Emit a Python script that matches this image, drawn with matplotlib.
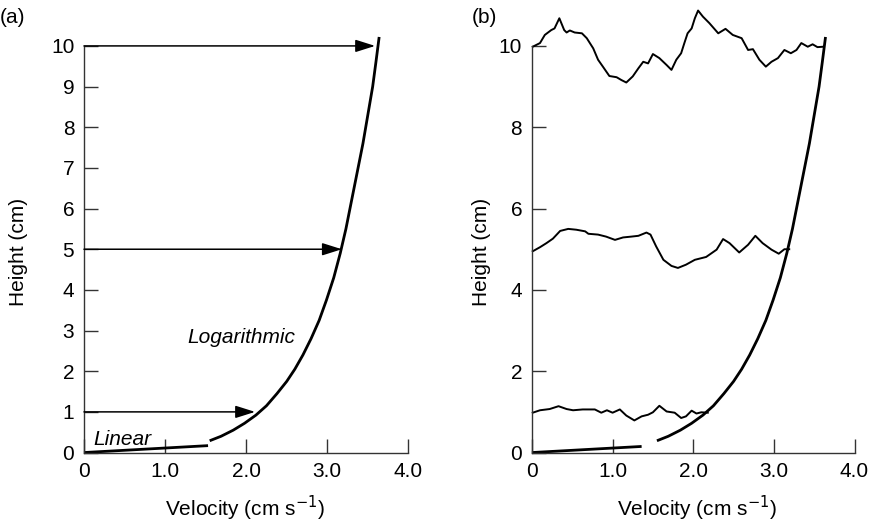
import numpy as np
import matplotlib
matplotlib.use('Agg')
import matplotlib.pyplot as plt

plt.rcParams['font.family'] = ['Liberation Sans', 'DejaVu Sans']

# Velocity profile: logarithmic part (velocity, height)
log_u = [1.55, 1.69, 1.84, 1.98, 2.12, 2.25, 2.38, 2.50, 2.60, 2.70, 2.80, 2.90,
         2.99, 3.08, 3.16, 3.23, 3.30, 3.37, 3.44, 3.50, 3.56, 3.60, 3.64]
log_z = [0.29, 0.40, 0.55, 0.72, 0.92, 1.15, 1.45, 1.75, 2.05, 2.40, 2.80, 3.25,
         3.75, 4.30, 4.90, 5.50, 6.20, 6.90, 7.60, 8.30, 9.00, 9.60, 10.22]

# Linear (viscous) part near the bed
lin_u_a = [0.0, 1.53]
lin_z_a = [0.0, 0.17]
lin_u_b = [0.0, 1.36]
lin_z_b = [0.0, 0.15]

# Heights and velocities of the arrows in (a)
arrow_z = [1, 5, 10]
arrow_u = [2.11, 3.18, 3.59]

# Dye streaks in (b)
top_u = [0.01, 0.10, 0.16, 0.24, 0.28, 0.34, 0.40, 0.43, 0.47, 0.53, 0.62, 0.68, 0.76,
         0.82, 0.88, 0.96, 1.05, 1.11, 1.17, 1.25, 1.32, 1.38, 1.44, 1.50, 1.58, 1.67,
         1.73, 1.79, 1.85, 1.89, 1.93, 1.98, 2.02, 2.06, 2.12, 2.20, 2.31, 2.40, 2.49,
         2.60, 2.68, 2.74, 2.82, 2.90, 2.97, 3.05, 3.13, 3.21, 3.28, 3.34, 3.42, 3.48,
         3.54, 3.61]
top_z = [9.98, 10.07, 10.27, 10.39, 10.43, 10.68, 10.39, 10.33, 10.38, 10.33, 10.31, 10.19,
         9.94, 9.66, 9.49, 9.26, 9.23, 9.16, 9.10, 9.25, 9.45, 9.61, 9.57, 9.80, 9.70, 9.53,
         9.41, 9.66, 9.82, 10.07, 10.31, 10.43, 10.68, 10.87, 10.72, 10.56, 10.31, 10.42,
         10.27, 10.19, 9.90, 9.92, 9.66, 9.49, 9.61, 9.70, 9.90, 9.82, 9.90, 10.07, 9.98,
         10.04, 9.97, 9.98]

mid_u = [0.01, 0.10, 0.18, 0.26, 0.35, 0.45, 0.55, 0.66, 0.70, 0.82, 0.92, 1.03, 1.13,
         1.23, 1.32, 1.42, 1.47, 1.54, 1.63, 1.73, 1.81, 1.91, 2.02, 2.10, 2.16, 2.29,
         2.37, 2.45, 2.57, 2.68, 2.77, 2.86, 2.97, 3.06, 3.13, 3.19]
mid_z = [4.95, 5.05, 5.15, 5.26, 5.45, 5.50, 5.48, 5.44, 5.38, 5.36, 5.31, 5.23, 5.29,
         5.31, 5.33, 5.41, 5.36, 5.07, 4.74, 4.59, 4.54, 4.62, 4.74, 4.78, 4.81, 4.99,
         5.25, 5.15, 4.92, 5.11, 5.33, 5.15, 4.99, 4.89, 5.00, 5.00]

low_u = [0.01, 0.10, 0.22, 0.33, 0.43, 0.51, 0.63, 0.78, 0.86, 0.93, 1.00, 1.09, 1.17,
         1.27, 1.36, 1.44, 1.50, 1.58, 1.67, 1.77, 1.85, 1.91, 1.98, 2.04, 2.10, 2.18]
low_z = [0.98, 1.04, 1.07, 1.14, 1.07, 1.04, 1.06, 1.06, 0.98, 1.04, 0.98, 1.06, 0.91,
         0.79, 0.89, 0.93, 0.99, 1.15, 1.01, 0.98, 0.85, 0.89, 1.03, 0.96, 0.99, 0.98]

FS = 15

fig = plt.figure(figsize=(8.72, 5.25), dpi=100)
ax_a = fig.add_axes([0.0963, 0.138, 0.372, 0.852])
ax_b = fig.add_axes([0.610, 0.138, 0.370, 0.852])


def style_axes(ax, yticks, ylab_x, xlab_x):
    ax.set_xlim(0, 4)
    ax.set_ylim(0, 11)
    for s in ['top', 'right']:
        ax.spines[s].set_visible(False)
    ax.spines['left'].set_bounds(0, 10)
    ax.spines['bottom'].set_bounds(0, 4)
    for s in ['left', 'bottom']:
        ax.spines[s].set_linewidth(1.0)
        ax.spines[s].set_color('#333333')
    ax.set_xticks([0, 1, 2, 3, 4])
    ax.set_xticklabels(['0', '1.0', '2.0', '3.0', '4.0'])
    ax.set_yticks(yticks)
    ax.tick_params(direction='in', length=10, width=1.0, color='#333333',
                   labelsize=FS, pad=7)
    ax.set_xlabel('Velocity (cm s$^{-1}$)', fontsize=FS, va='center')
    ax.set_ylabel('Height (cm)', fontsize=FS, va='center')
    ax.xaxis.set_label_coords(xlab_x, -0.124)
    ax.yaxis.set_label_coords(ylab_x, 0.448)


# (a) profile with velocity arrows
style_axes(ax_a, range(0, 11), -0.203, 0.496)
ax_a.plot(lin_u_a, lin_z_a, color='black', lw=2.0, clip_on=False, solid_capstyle='butt')
ax_a.plot(log_u, log_z, color='black', lw=2.0, clip_on=False, solid_capstyle='butt')
for z, u in zip(arrow_z, arrow_u):
    ax_a.annotate('', xy=(u, z), xytext=(0, z),
                  arrowprops=dict(arrowstyle='-|>,head_length=1.2,head_width=0.38',
                                  color='black', lw=1.1, shrinkA=0, shrinkB=0))
ax_a.text(1.28, 2.82, 'Logarithmic', fontsize=FS, style='italic', va='center')
ax_a.text(0.11, 0.33, 'Linear', fontsize=FS, style='italic', va='center')
fig.text(0.0, 0.967, '(a)', fontsize=FS, va='center')

# (b) profile with dye streaks
style_axes(ax_b, range(0, 11, 2), -0.155, 0.51)
ax_b.plot(lin_u_b, lin_z_b, color='black', lw=2.0, clip_on=False, solid_capstyle='butt')
ax_b.plot(log_u, log_z, color='black', lw=2.0, clip_on=False, solid_capstyle='butt')
for u, z in [(top_u, top_z), (mid_u, mid_z), (low_u, low_z)]:
    ax_b.plot(u, z, color='black', lw=1.4, clip_on=False)
fig.text(0.541, 0.967, '(b)', fontsize=FS, va='center')

fig.savefig('out.png', dpi=100)
